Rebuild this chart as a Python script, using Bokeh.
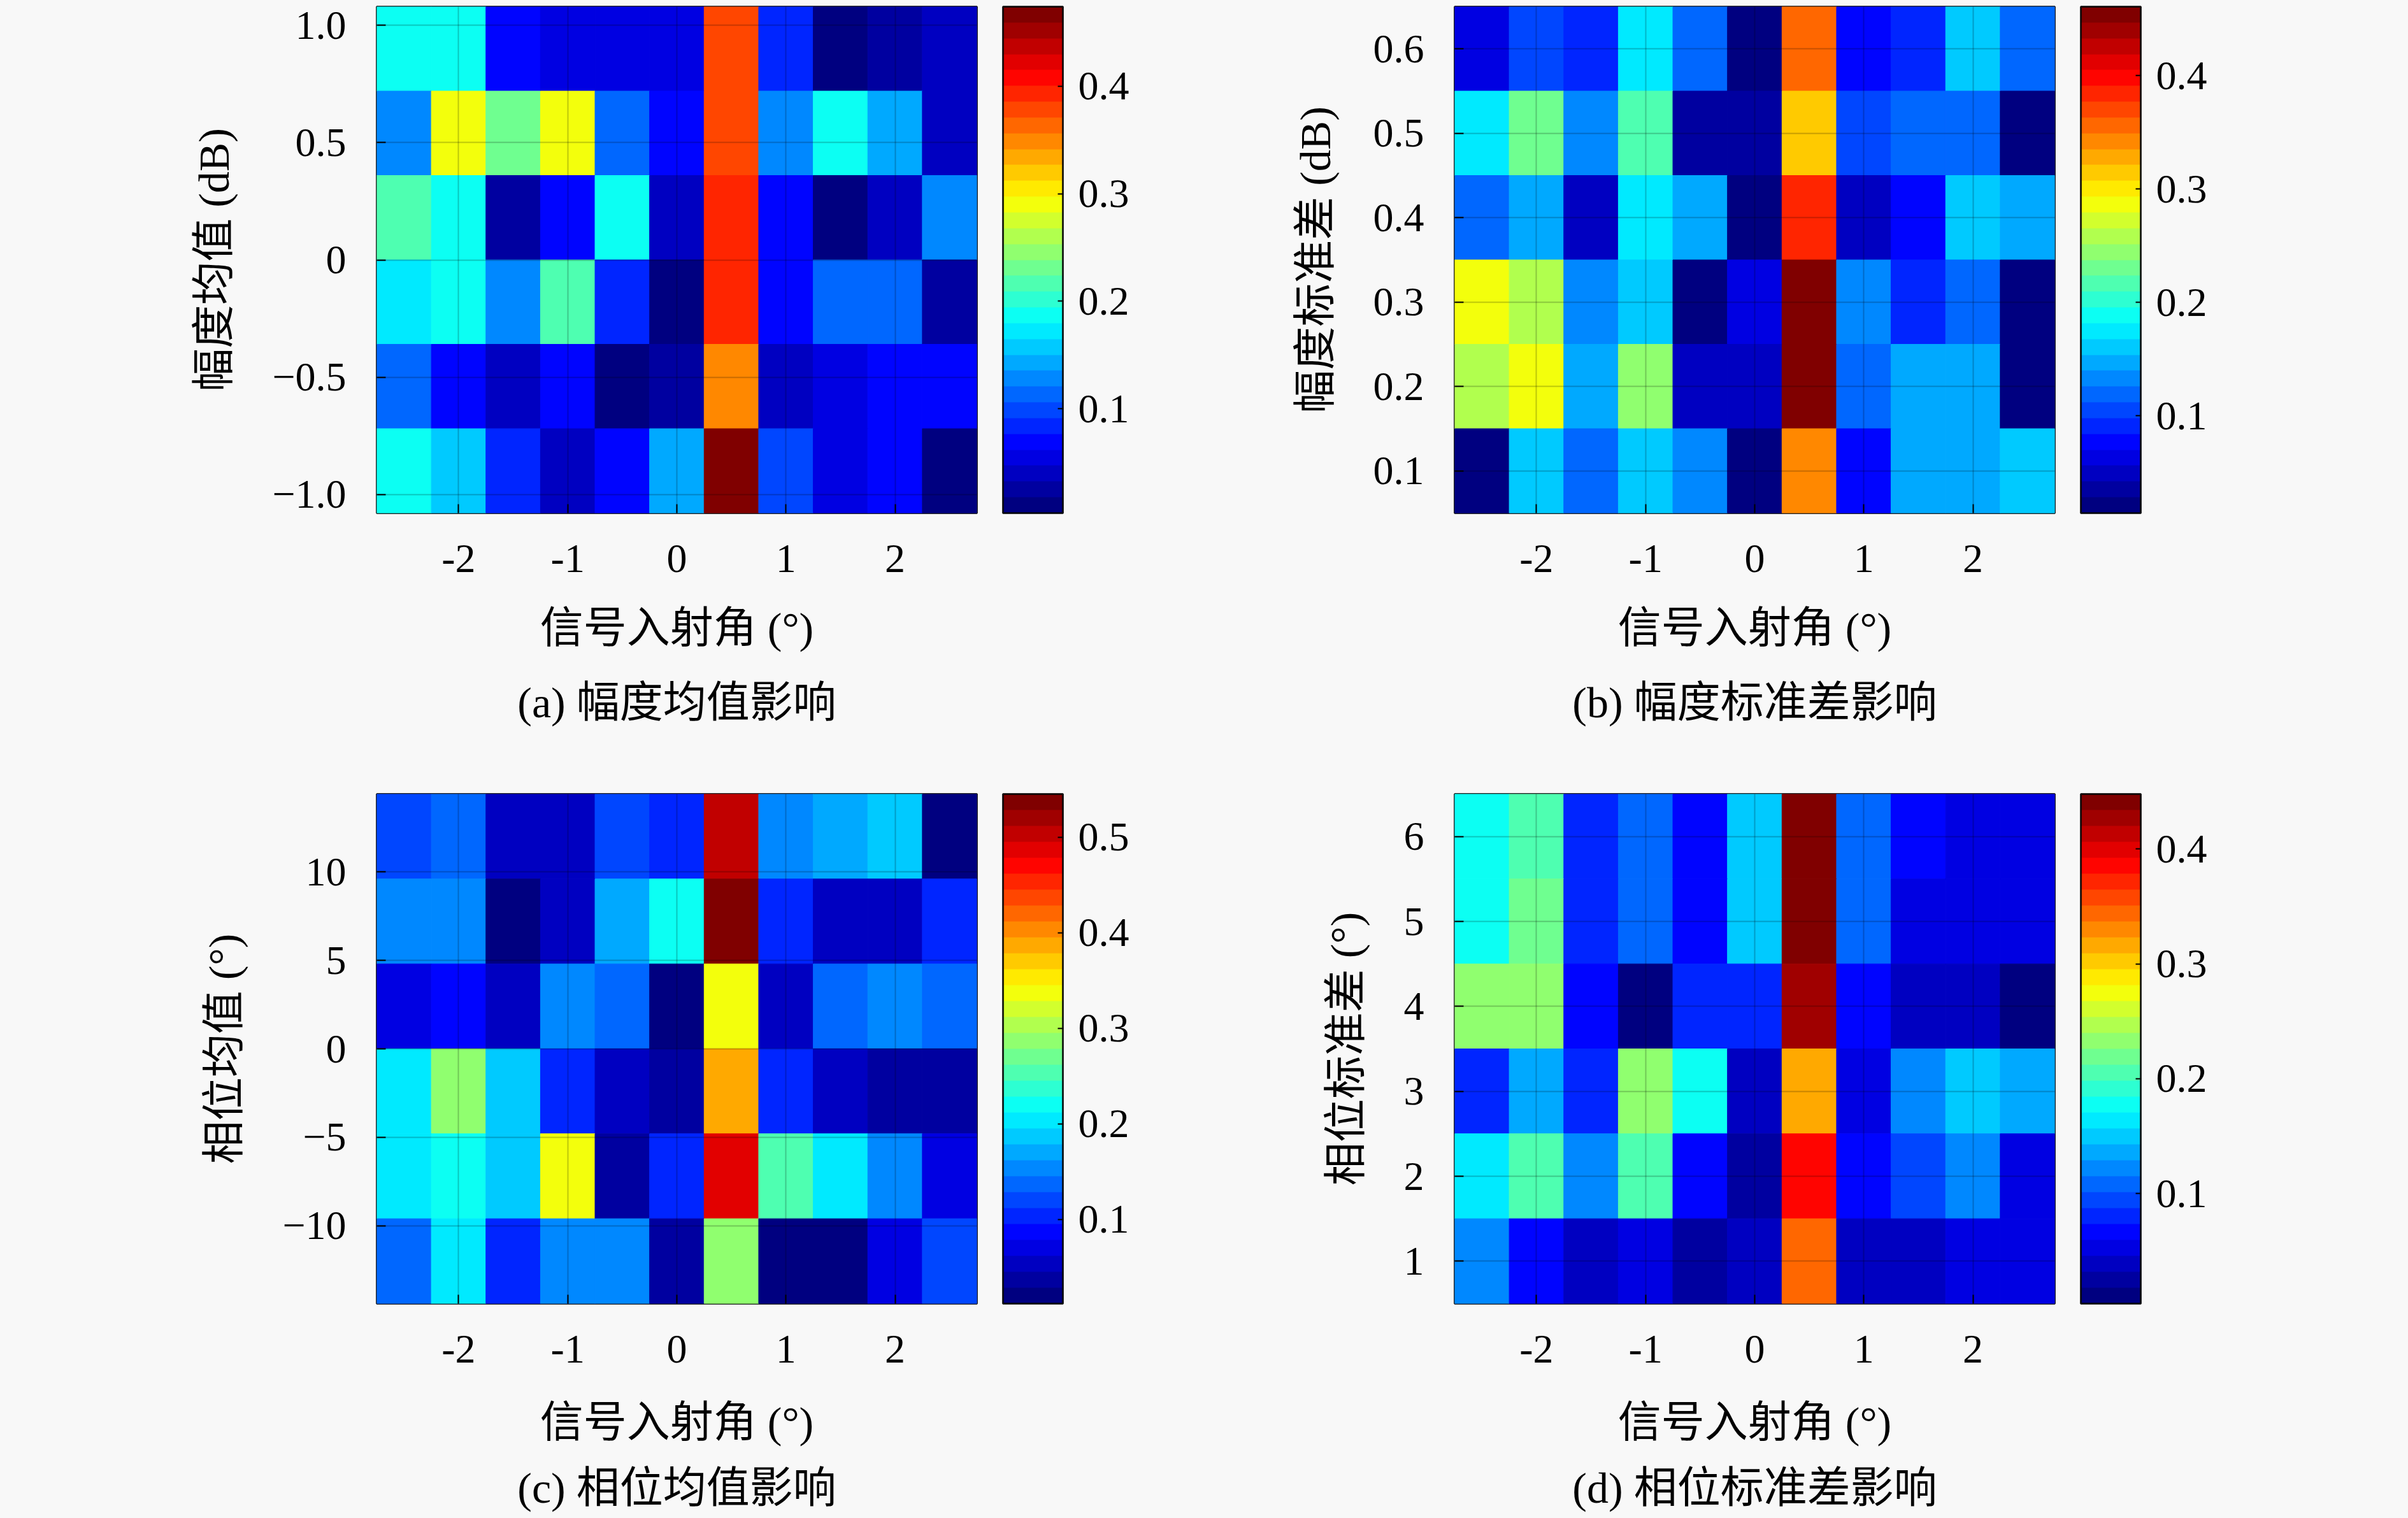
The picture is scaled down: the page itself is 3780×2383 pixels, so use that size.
import numpy as np
from bokeh.plotting import figure
from bokeh.models import (ColumnDataSource, LinearColorMapper, ColorBar, FixedTicker,
                          Title, Range1d)
from bokeh.layouts import row, column
from bokeh.embed import file_html
from bokeh.resources import INLINE

# ---------------- data ----------------
angles = [-2.5, -2.0, -1.5, -1.0, -0.5, 0.0, 0.5, 1.0, 1.5, 2.0, 2.5]
x_ticks = [-2, -1, 0, 1, 2]
x_tick_labels = ["-2", "-1", "0", "1", "2"]

# (a) amplitude mean (dB), rows listed top -> bottom
amp_mean_levels = [0.9, 0.54, 0.18, -0.18, -0.54, -0.9]
amp_mean_err = [
    [0.187, 0.187, 0.062, 0.055, 0.060, 0.052, 0.380, 0.083, 0.011, 0.022, 0.036],
    [0.135, 0.283, 0.238, 0.285, 0.107, 0.062, 0.380, 0.127, 0.180, 0.140, 0.036],
    [0.210, 0.190, 0.025, 0.076, 0.180, 0.044, 0.400, 0.062, 0.004, 0.044, 0.128],
    [0.178, 0.190, 0.128, 0.210, 0.083, 0.003, 0.390, 0.065, 0.107, 0.110, 0.022],
    [0.114, 0.062, 0.044, 0.070, 0.003, 0.022, 0.345, 0.044, 0.050, 0.062, 0.075],
    [0.180, 0.155, 0.087, 0.044, 0.070, 0.140, 0.474, 0.095, 0.060, 0.062, 0.003],
]
amp_mean_yticks = [-1.0, -0.5, 0.0, 0.5, 1.0]
amp_mean_ylabels = ["\u22121.0", "\u22120.5", "0", "0.5", "1.0"]

# (b) amplitude std (dB)
amp_std_levels = [0.6, 0.5, 0.4, 0.3, 0.2, 0.1]
amp_std_err = [
    [0.069, 0.098, 0.087, 0.181, 0.116, 0.014, 0.352, 0.072, 0.087, 0.157, 0.116],
    [0.181, 0.224, 0.136, 0.210, 0.031, 0.031, 0.320, 0.098, 0.116, 0.121, 0.014],
    [0.125, 0.143, 0.049, 0.180, 0.150, 0.014, 0.380, 0.049, 0.080, 0.157, 0.150],
    [0.280, 0.262, 0.130, 0.165, 0.014, 0.069, 0.456, 0.136, 0.085, 0.120, 0.027],
    [0.262, 0.293, 0.150, 0.248, 0.049, 0.049, 0.461, 0.112, 0.143, 0.150, 0.014],
    [0.027, 0.157, 0.121, 0.165, 0.139, 0.027, 0.345, 0.080, 0.147, 0.150, 0.157],
]
amp_std_yticks = [0.1, 0.2, 0.3, 0.4, 0.5, 0.6]
amp_std_ylabels = ["0.1", "0.2", "0.3", "0.4", "0.5", "0.6"]

# (c) phase mean (deg)
ph_mean_levels = [12.0, 7.2, 2.4, -2.4, -7.2, -12.0]
ph_mean_err = [
    [0.115, 0.139, 0.058, 0.058, 0.115, 0.110, 0.497, 0.161, 0.170, 0.182, 0.012],
    [0.150, 0.158, 0.012, 0.058, 0.166, 0.220, 0.545, 0.110, 0.058, 0.058, 0.110],
    [0.078, 0.080, 0.058, 0.150, 0.134, 0.012, 0.331, 0.049, 0.134, 0.158, 0.130],
    [0.210, 0.291, 0.182, 0.108, 0.058, 0.033, 0.380, 0.110, 0.058, 0.033, 0.033],
    [0.210, 0.220, 0.187, 0.345, 0.033, 0.110, 0.480, 0.246, 0.210, 0.150, 0.078],
    [0.130, 0.205, 0.108, 0.161, 0.153, 0.033, 0.291, 0.012, 0.012, 0.078, 0.115],
]
ph_mean_yticks = [-10, -5, 0, 5, 10]
ph_mean_ylabels = ["\u221210", "\u22125", "0", "5", "10"]

# (d) phase std (deg)
ph_std_levels = [6, 5, 4, 3, 2, 1]
ph_std_err = [
    [0.177, 0.212, 0.083, 0.106, 0.061, 0.146, 0.448, 0.110, 0.072, 0.059, 0.052],
    [0.177, 0.215, 0.083, 0.106, 0.061, 0.146, 0.443, 0.110, 0.056, 0.056, 0.046],
    [0.237, 0.235, 0.061, 0.004, 0.083, 0.087, 0.430, 0.072, 0.039, 0.039, 0.011],
    [0.087, 0.132, 0.083, 0.237, 0.177, 0.042, 0.322, 0.059, 0.128, 0.146, 0.139],
    [0.170, 0.199, 0.119, 0.199, 0.072, 0.021, 0.381, 0.072, 0.100, 0.119, 0.059],
    [0.119, 0.061, 0.039, 0.059, 0.026, 0.039, 0.343, 0.039, 0.039, 0.059, 0.059],
]
ph_std_yticks = [1, 2, 3, 4, 5, 6]
ph_std_ylabels = ["1", "2", "3", "4", "5", "6"]

x_title = "信号入射角 (°)"
y_titles = ["幅度均值 (dB)", "幅度标准差 (dB)", "相位均值 (°)", "相位标准差 (°)"]
captions = ["(a) 幅度均值影响", "(b) 幅度标准差影响", "(c) 相位均值影响", "(d) 相位标准差影响"]
cbar_ticks = [[0.1, 0.2, 0.3, 0.4], [0.1, 0.2, 0.3, 0.4],
              [0.1, 0.2, 0.3, 0.4, 0.5], [0.1, 0.2, 0.3, 0.4]]


# ---------------- style ----------------
def jet(n):
    out = []
    for i in range(n):
        t = i / (n - 1)
        r = min(max(1.5 - abs(4 * t - 3), 0), 1)
        g = min(max(1.5 - abs(4 * t - 2), 0), 1)
        b = min(max(1.5 - abs(4 * t - 1), 0), 1)
        out.append("#%02x%02x%02x" % (int(round(r * 255)), int(round(g * 255)), int(round(b * 255))))
    return out


JET = jet(32)
BG = "#f8f8f8"
FONT = "'Liberation Serif', 'Noto Sans CJK SC', serif"
TICK_FS = "64px"
LABEL_FS = "68px"
FRAME_W = 942


def panel(values, levels, yticks, ylabels, ytitle, caption, cticks,
          frame_h, b_left, b_right, b_top, b_bottom,
          xl_standoff, cap_standoff):
    row_h = abs(levels[0] - levels[1])
    y_lo = min(levels) - row_h / 2
    y_hi = max(levels) + row_h / 2
    xs, ys, vs = [], [], []
    for j, lev in enumerate(levels):
        for i, a in enumerate(angles):
            xs.append(a)
            ys.append(lev)
            vs.append(values[j][i])
    src = ColumnDataSource(dict(x=xs, y=ys, v=vs))
    mapper = LinearColorMapper(palette=JET, low=min(vs), high=max(vs))

    p = figure(output_backend="svg", toolbar_location=None,
               frame_width=FRAME_W, frame_height=frame_h,
               x_range=Range1d(angles[0] - 0.25, angles[-1] + 0.25),
               y_range=Range1d(y_lo, y_hi),
               min_border_left=b_left, min_border_right=b_right,
               min_border_top=b_top, min_border_bottom=b_bottom,
               background_fill_color=BG, border_fill_color=BG)
    p.rect(x="x", y="y", width=0.5, height=row_h, source=src,
           fill_color={"field": "v", "transform": mapper},
           line_color={"field": "v", "transform": mapper}, line_width=1)

    p.outline_line_color = "black"
    p.outline_line_width = 3
    p.outline_line_alpha = 0.85

    p.xaxis.ticker = FixedTicker(ticks=x_ticks)
    p.xaxis.major_label_overrides = {t: l for t, l in zip(x_ticks, x_tick_labels)}
    p.yaxis.ticker = FixedTicker(ticks=yticks)
    p.yaxis.major_label_overrides = {t: l for t, l in zip(yticks, ylabels)}
    for ax in (p.xaxis[0], p.yaxis[0]):
        ax.axis_line_color = None
        ax.major_tick_in = 14
        ax.major_tick_out = 0
        ax.major_tick_line_color = "black"
        ax.major_tick_line_width = 2
        ax.minor_tick_line_color = None
        ax.major_label_text_font = FONT
        ax.major_label_text_font_size = TICK_FS
        ax.major_label_text_color = "black"
        ax.axis_label_text_font = FONT
        ax.axis_label_text_font_size = LABEL_FS
        ax.axis_label_text_font_style = "normal"
        ax.axis_label_text_color = "black"
    p.xaxis.major_label_standoff = 50
    p.xaxis.axis_label_standoff = xl_standoff
    p.yaxis.major_label_standoff = 48
    p.yaxis.axis_label_standoff = 50
    p.xaxis.axis_label = x_title
    p.yaxis.axis_label = ytitle

    for g, tk in ((p.xgrid[0], x_ticks), (p.ygrid[0], yticks)):
        g.ticker = FixedTicker(ticks=tk)
        g.grid_line_color = "black"
        g.grid_line_alpha = 0.22
        g.grid_line_width = 2
        g.level = "overlay"

    cb = ColorBar(color_mapper=mapper, location=(FRAME_W + 41, 0),
                  width=94, height=frame_h, padding=0, margin=0,
                  ticker=FixedTicker(ticks=cticks),
                  major_label_text_font=FONT, major_label_text_font_size=TICK_FS,
                  major_label_text_color="black", label_standoff=24,
                  major_tick_in=8, major_tick_line_color="black", major_tick_line_width=2,
                  minor_tick_line_color=None,
                  bar_line_color="black", bar_line_width=3, bar_line_alpha=0.85,
                  border_line_color=None, background_fill_alpha=0)
    p.add_layout(cb, "center")

    p.add_layout(Title(text=caption, align="center", text_font=FONT,
                       text_font_size=LABEL_FS, text_font_style="normal",
                       text_color="black", standoff=cap_standoff), "below")
    return p


# top row: frame 10..805 ; bottom row: frame 1246..2046 (page pixels)
pa = panel(amp_mean_err, amp_mean_levels, amp_mean_yticks, amp_mean_ylabels,
           y_titles[0], captions[0], cbar_ticks[0], 795, 591, 367, 10, 395, 47, 72)
pb = panel(amp_std_err, amp_std_levels, amp_std_yticks, amp_std_ylabels,
           y_titles[1], captions[1], cbar_ticks[1], 795, 383, 555, 10, 395, 47, 72)
pc = panel(ph_mean_err, ph_mean_levels, ph_mean_yticks, ph_mean_ylabels,
           y_titles[2], captions[2], cbar_ticks[2], 800, 591, 367, 46, 334, 53, 45)
pd = panel(ph_std_err, ph_std_levels, ph_std_yticks, ph_std_ylabels,
           y_titles[3], captions[3], cbar_ticks[3], 800, 383, 555, 46, 334, 53, 45)

layout = column(row(pa, pb, spacing=0), row(pc, pd, spacing=0), spacing=0,
                styles={"background-color": BG})

open("out.html", "w").write(file_html(layout, INLINE))
